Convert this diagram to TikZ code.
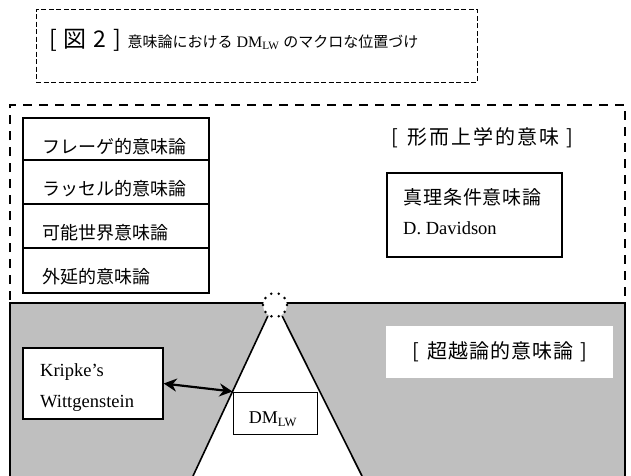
\documentclass[tikz,border=0pt]{standalone}
\usepackage{fontspec}
\setmainfont{Liberation Serif}
\newfontfamily\jp{Noto Sans CJK JP}
\usetikzlibrary{arrows.meta}
\tikzset{
  framebox/.style={draw, line width=1.3pt, fill=white, inner sep=0pt},
  jtext/.style={font=\jp\fontsize{18}{20}\selectfont, inner sep=0pt, anchor=west},
  etext/.style={font=\fontsize{18.5}{20}\selectfont, inner sep=0pt, anchor=west},
  bigdash/.style={line width=2.6pt, dash pattern=on 9pt off 7pt},
  heavy/.style={line width=2.6pt},
  coneline/.style={line width=1.6pt},
}
\begin{document}
\begin{tikzpicture}[x=1pt,y=-1pt]
\useasboundingbox (0,0) rectangle (631,475);
% title box
\node[draw, line width=1pt, dash pattern=on 5pt off 2.5pt, minimum width=441pt, minimum height=73pt, inner sep=0pt] (tbox) at (256.5,45.5) {};
\node[inner sep=0pt, anchor=west] (title) at (49,40)
  {{\jp\fontsize{23}{26}\selectfont [\hspace{7pt}図\hspace{7pt}2\hspace{7pt}]}\hspace{6pt}{\jp\fontsize{15}{18}\selectfont 意味論における}\hspace{4pt}{\fontsize{16}{18}\selectfont DM\textsubscript{LW}}\hspace{4pt}{\jp\fontsize{15}{18}\selectfont のマクロな位置づけ}};
% upper dashed frame
\draw[bigdash] (10,300) -- (10,105) -- (625,105) -- (625,300);
% lower gray region
\fill[gray!50] (10,303) rectangle (625,476);
\draw[heavy] (10,476) -- (10,303) -- (625,303) -- (625,476);
% cone
\node[circle, minimum size=26pt, inner sep=0pt] (apex) at (275,305) {};
\coordinate (tl) at (193,476);
\coordinate (tr) at (362,476);
\fill[white] (apex.237) -- (tl) -- (tr) -- (apex.303) -- cycle;
\draw[coneline] (apex.237) -- (tl);
\draw[coneline] (apex.303) -- (tr);
\node[circle, fill=white, draw, line width=2.8pt, line cap=round, dash pattern=on 0pt off 7.5pt, minimum size=24pt, inner sep=0pt] (apexc) at (275,305) {};
% left stack
\node[framebox, minimum width=186pt, minimum height=42pt] (b1) at (116,139) {};
\node[framebox, minimum width=186pt, minimum height=44pt] (b2) at (116,182) {};
\node[framebox, minimum width=186pt, minimum height=44pt] (b3) at (116,226) {};
\node[framebox, minimum width=186pt, minimum height=45pt] (b4) at (116,270.5) {};
\node[jtext] (t1) at (42,147) {フレーゲ的意味論};
\node[jtext] (t2) at (42,189) {ラッセル的意味論};
\node[jtext] (t3) at (42,233) {可能世界意味論};
\node[jtext] (t4) at (42,277) {外延的意味論};
% metaphysical label
\node[inner sep=0pt, font=\jp\fontsize{20}{22}\selectfont\addfontfeature{LetterSpace=10}] (meta) at (482,138) {[\hspace{9pt}形而上学的意味\hspace{7pt}]};
% Davidson box
\node[framebox, minimum width=175pt, minimum height=84pt] (dbox) at (474.5,215) {};
\node[jtext, font=\jp\fontsize{19}{20}\selectfont\addfontfeature{LetterSpace=5}] (dt1) at (403,197) {真理条件意味論};
\node[etext] (dt2) at (403,228) {D. Davidson};
% transcendental label
\node[fill=white, minimum width=227pt, minimum height=52pt, inner sep=0pt, font=\jp\fontsize{20}{22}\selectfont\addfontfeature{LetterSpace=5}] (trans) at (499.5,352) {[\hspace{8pt}超越論的意味論\hspace{7pt}]};
% Kripke box
\node[framebox, minimum width=140pt, minimum height=71pt] (kb) at (93,383.5) {};
\node[etext] (k1) at (40,372) {Kripke’s};
\node[etext] (k2) at (40,403) {Wittgenstein};
% DM box
\node[draw, line width=1pt, fill=white, minimum width=84pt, minimum height=42pt, inner sep=0pt] (dm) at (275,413) {};
\node[inner sep=0pt, font=\fontsize{18}{20}\selectfont] (dmt) at (273,419) {DM\textsubscript{LW}};
% arrow
\draw[line width=2.2pt, {Stealth[length=13pt,width=13pt]}-{Stealth[length=13pt,width=13pt]}] (kb.east) -- (dm.north west);
\end{tikzpicture}
\end{document}
